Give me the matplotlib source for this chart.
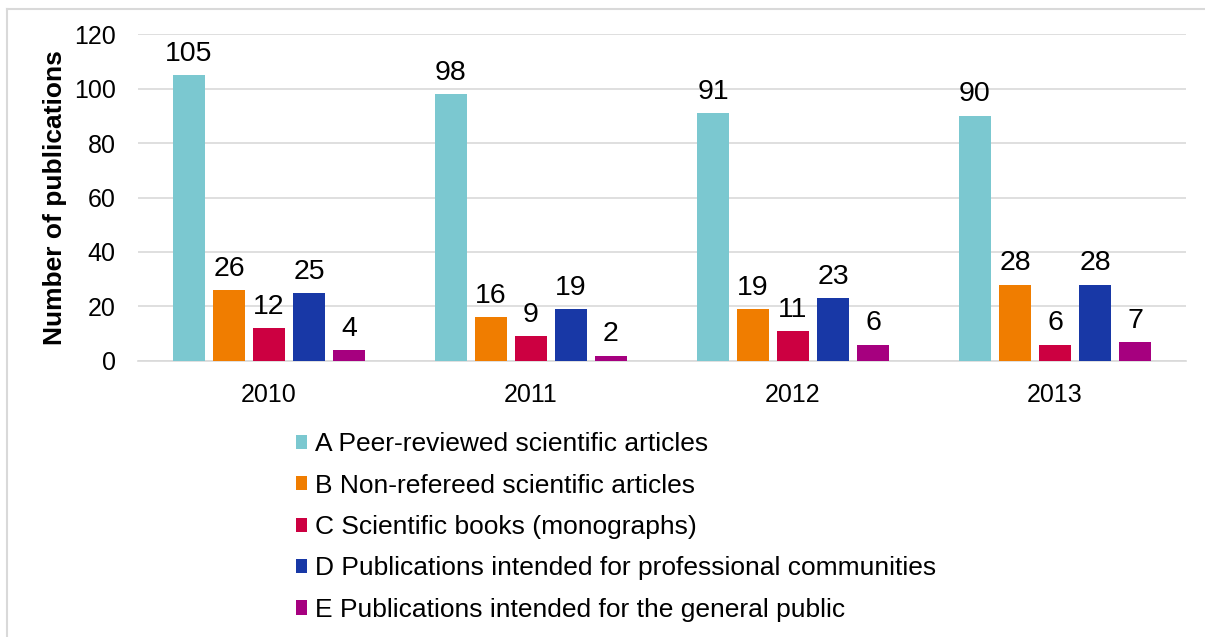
import numpy as np
import matplotlib.pyplot as plt
from matplotlib.lines import Line2D

plt.rcParams['font.family'] = ['Liberation Sans', 'DejaVu Sans']

# data
years = ['2010', '2011', '2012', '2013']
series_names = ['A Peer-reviewed scientific articles',
                'B Non-refereed scientific articles',
                'C Scientific books (monographs)',
                'D Publications intended for professional communities',
                'E Publications intended for the general public']
a_peer = [105, 98, 91, 90]
b_nonref = [26, 16, 19, 28]
c_books = [12, 9, 11, 6]
d_prof = [25, 19, 23, 28]
e_public = [4, 2, 6, 7]
colors = ['#7BC8D0', '#F07D00', '#CC0041', '#1838A6', '#A6007F']

values = [a_peer, b_nonref, c_books, d_prof, e_public]

fig = plt.figure(figsize=(12.05, 6.37), dpi=100)
ax = fig.add_axes([0.1145, 0.4333, 0.8697, 0.5133])

x = np.arange(len(years))
step = 0.1527
width = 0.122
for i, (name, vals, col) in enumerate(zip(series_names, values, colors)):
    pos = x + (i - 2) * step
    bars = ax.bar(pos, vals, width, color=col, label=name, zorder=3)
    for b, v in zip(bars, vals):
        ax.annotate(str(v), (b.get_x() + b.get_width() / 2, v),
                    xytext=(0, 6), textcoords='offset points',
                    ha='center', va='bottom', fontsize=20.5, color='black')

ax.set_xlim(-0.5, 3.5)
ax.set_ylim(0, 120)
ax.set_yticks(range(0, 121, 20))
ax.set_xticks(x)
ax.set_xticklabels(years)
ax.tick_params(axis='both', length=0, labelsize=18)
ax.tick_params(axis='x', pad=16)
ax.tick_params(axis='y', pad=16)
ax.yaxis.grid(True, color='#D9D9D9', linewidth=1.2, zorder=0)
ax.set_axisbelow(True)
for s in ['top', 'right', 'left']:
    ax.spines[s].set_visible(False)
ax.spines['bottom'].set_color('#D9D9D9')
ax.spines['bottom'].set_linewidth(1.2)
ax.set_ylabel('Number of publications', fontsize=19, fontweight='bold', labelpad=5)

fig.legend(loc='upper left', bbox_to_anchor=(0.2365, 0.338), frameon=False,
           fontsize=19, handlelength=0.45, handleheight=0.45, handletextpad=0.3,
           labelspacing=0.66, borderaxespad=0)

# figure frame (left and top only visible)
fig.add_artist(Line2D([0.0058, 0.0058], [0, 1 - 9 / 637], transform=fig.transFigure,
                      color='#D9D9D9', linewidth=1.5))
fig.add_artist(Line2D([0.0058, 1], [1 - 9 / 637, 1 - 9 / 637], transform=fig.transFigure,
                      color='#D9D9D9', linewidth=1.5))

fig.savefig('out.png', dpi=100)
